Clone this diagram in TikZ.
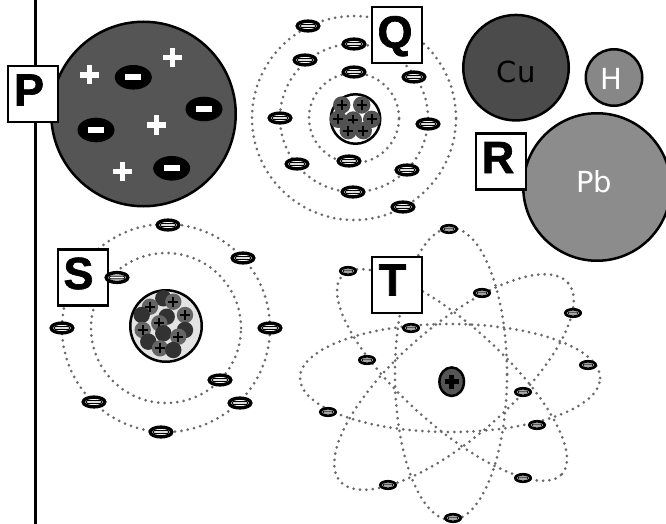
\documentclass[tikz,border=0pt]{standalone}
\usepackage{fontspec}
\setmainfont{DejaVu Sans}
\newfontfamily\tagfont[FakeBold=1.5]{Liberation Sans Bold}

\definecolor{pgray}{HTML}{555555}
\definecolor{cugray}{HTML}{4B4B4B}
\definecolor{hgray}{HTML}{878787}
\definecolor{pbgray}{HTML}{8C8C8C}
\definecolor{orbitgray}{HTML}{6A6A6A}
\definecolor{qcore}{HTML}{525252}
\definecolor{slight}{HTML}{E3E3E3}
\definecolor{sdark}{HTML}{323232}
\definecolor{sgray}{HTML}{656565}
\definecolor{tcore}{HTML}{555555}

\tikzset{
  orbit/.style={draw=orbitgray, line width=3pt, line cap=round, dash pattern=on 0pt off 6.4pt},
  tagbox/.style={draw=black, fill=white, line width=2.5pt, minimum width=50pt, minimum height=56pt,
    inner sep=0pt, text height=33pt, text depth=0pt, font=\tagfont\fontsize{45}{45}\selectfont},
  element/.style={circle, draw=black, line width=2.5pt, inner sep=0pt},
  symbol/.style={inner sep=0pt, font=\fontsize{29}{29}\selectfont},
  electron/.pic={
    \draw[line width=3.4pt, fill=white] (0,0) ellipse [x radius=10.8pt, y radius=4.9pt];
    \draw[line width=1pt, fill=white, rounded corners=1pt] (-7.6pt,-1.4pt) rectangle (7.6pt,1.4pt);
  },
  electron small/.pic={
    \draw[line width=2.7pt, fill=white] (0,0) ellipse [x radius=7.7pt, y radius=3.7pt];
    \draw[line width=0.8pt, fill=white, rounded corners=0.6pt] (-5pt,-0.9pt) rectangle (5pt,0.9pt);
  },
}

\begin{document}
\begin{tikzpicture}[x=1pt,y=-1pt]
\useasboundingbox (0,0) rectangle (666,524);

% left rule
\coordinate (railtop) at (35.5,0);
\coordinate (railbot) at (35.5,524);
\draw[line width=3.5pt] (railtop) -- (railbot);

% ---------- P : plum-pudding sphere ----------
\node[element, fill=pgray, minimum size=184.5pt] (atomP) at (143.5,114) {};
\foreach \x/\y in {89.3/75, 172.3/57.3, 156.7/125, 122.7/171.7} {
  \fill[white] (\x-9.5,\y-2.6) rectangle (\x+9.5,\y+2.6);
  \fill[white] (\x-2.6,\y-9.5) rectangle (\x+2.6,\y+9.5);
}
\foreach \x/\y in {133.3/77.3, 204/109, 96/130, 171.7/168.3} {
  \fill[black] (\x,\y) ellipse [x radius=18.5pt, y radius=12.3pt];
  \fill[white] (\x-8,\y-2.9) rectangle (\x+8,\y+2.9);
}
\node[tagbox] (tagP) at (33,94) {\raisebox{5pt}{P}\hspace*{8pt}};

% ---------- Q : shell atom ----------
\draw[orbit] (354,118) circle (45pt);
\draw[orbit] (354,118) circle (74pt);
\draw[orbit] (354,118) circle (102pt);
\node[element, fill=white, minimum size=49.5pt] (coreQ) at (355.5,119) {};
\foreach \x/\y in {341.7/105, 361.7/105, 338.3/119.3, 353.3/120, 371.7/119.3, 348.3/130.7, 363.3/130.7} {
  \fill[qcore] (\x,\y) circle (8.7pt);
  \draw[line width=2.3pt] (\x-5,\y) -- (\x+5,\y) (\x,\y-5) -- (\x,\y+5);
}
\foreach \x/\y in {308/26, 403/207, 354/72, 349/161,
                   354/44, 305/60, 414/77, 280/118, 428/124, 297/164, 407/170, 353/192}
  \pic at (\x,\y) {electron};
\node[tagbox] (tagQ) at (397,35) {\raisebox{4pt}{Q}\hspace*{4pt}};

% ---------- R : element spheres ----------
\node[element, fill=cugray, minimum size=105.5pt] (cu) at (516,67.7) {};
\node[element, fill=hgray, minimum size=56.5pt] (h) at (614,77.5) {};
\node[element, fill=pbgray, minimum size=147.5pt] (pb) at (597,187) {};
\node[symbol, text=black] (cuText) at (516.3,71.5) {Cu};
\node[symbol, text=white] (hText) at (611,78.5) {H};
\node[symbol, text=white] (pbText) at (594,182) {Pb};
\node[tagbox] (tagR) at (501,161.5) {\raisebox{5pt}{R}\hspace*{6pt}};

% ---------- S : shell atom with mixed nucleus ----------
\draw[orbit] (166,328) circle (75pt);
\draw[orbit] (166,328) circle (104pt);
\node[element, fill=slight, minimum size=71.5pt] (coreS) at (166,326) {};
\foreach \x/\y/\c/\p in {163.3/298.3/sdark/0, 173.3/301.7/sgray/1, 150/306.7/sgray/1,
    141.7/315/sdark/0, 185/315/sgray/1, 166.7/316.7/sdark/0, 159.3/323.3/sgray/1,
    142.7/330/sgray/1, 185/330/sdark/0, 163.3/333.3/sdark/0, 178.3/336.7/sgray/1,
    148.3/341.7/sdark/0, 160/348.3/sgray/1, 173.3/350/sdark/0} {
  \fill[\c] (\x,\y) circle (8.2pt);
  \ifnum\p=1 \draw[line width=2.3pt] (\x-5,\y) -- (\x+5,\y) (\x,\y-5) -- (\x,\y+5);\fi
}
\node[tagbox] (tagS) at (83,277.5) {\raisebox{5pt}{S}\hspace*{9pt}};
\foreach \x/\y in {117/277.5, 220/380, 168/225, 243/258, 62/328, 270/328, 94/402, 240/403, 161/432}
  \pic at (\x,\y) {electron};

% ---------- T : orbital model ----------
\draw[orbit] (450,378) ellipse [x radius=150pt, y radius=54pt];
\draw[orbit] (451,374) ellipse [x radius=56pt, y radius=146pt];
\draw[orbit, rotate around={41:(454,382)}] (454,382) ellipse [x radius=151pt, y radius=56pt];
\draw[orbit, rotate around={-42:(452,375)}] (452,375) ellipse [x radius=148pt, y radius=50pt];
\draw[line width=2.5pt, fill=tcore] (451.7,381.7) ellipse [x radius=12.3pt, y radius=14.3pt];
\draw[line width=5pt] (444.8,381.7) -- (458.6,381.7) (451.7,374.8) -- (451.7,388.6);
\foreach \x/\y in {449/229, 348/271, 482/293, 573/313, 411/328, 367/360, 588/365,
                   523/392, 328/412, 537/425, 523/478, 388/485, 453/518}
  \pic at (\x,\y) {electron small};
\node[tagbox] (tagT) at (397,285) {\raisebox{6pt}{T}\hspace*{9pt}};
\end{tikzpicture}
\end{document}
